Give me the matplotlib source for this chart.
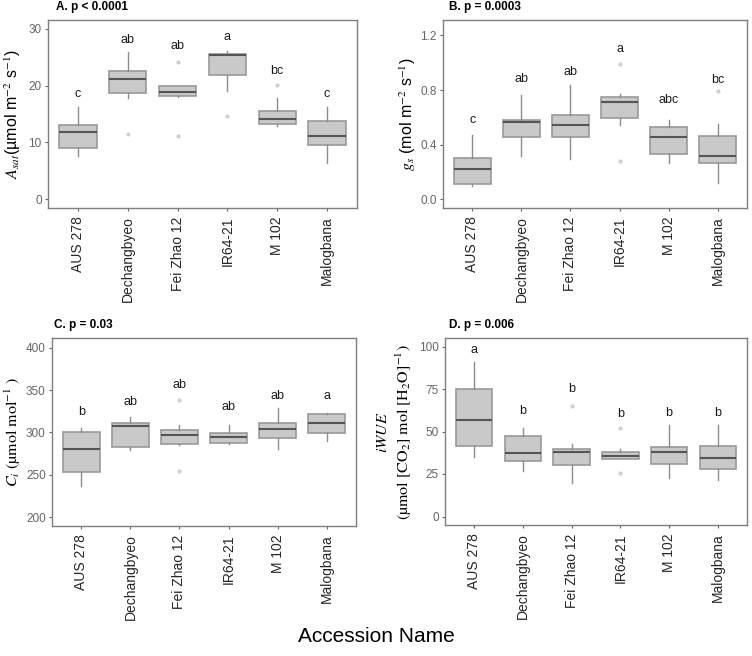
import numpy as np
import matplotlib
matplotlib.use("Agg")
import matplotlib.pyplot as plt

plt.rcParams['font.family'] = ['Liberation Sans', 'DejaVu Sans']
plt.rcParams['mathtext.fontset'] = 'stix'

accessions = ["AUS 278", "Dechangbyeo", "Fei Zhao 12", "IR64-21", "M 102", "Malogbana"]

# A. Asat
a_whislo = [7.6, 17.8, 18.0, 19.0, 12.9, 6.4]
a_q1 = [9.1, 18.6, 18.2, 21.8, 13.3, 9.6]
a_med = [11.9, 21.1, 18.8, 25.3, 14.2, 11.1]
a_q3 = [13.1, 22.5, 19.9, 25.6, 15.6, 13.7]
a_whishi = [16.3, 25.8, 19.9, 26.0, 17.8, 16.3]
a_fliers = [[], [11.5], [24.2, 11.2], [14.7], [20.1], []]
a_letters = ["c", "ab", "ab", "a", "bc", "c"]
a_letter_y = [18.5, 28.0, 27.0, 28.5, 22.6, 18.5]

# B. gs
b_whislo = [0.102, 0.316, 0.297, 0.545, 0.268, 0.122]
b_q1 = [0.115, 0.457, 0.46, 0.599, 0.331, 0.27]
b_med = [0.226, 0.564, 0.543, 0.71, 0.457, 0.319]
b_q3 = [0.302, 0.584, 0.615, 0.75, 0.528, 0.465]
b_whishi = [0.474, 0.764, 0.834, 0.774, 0.579, 0.552]
b_fliers = [[], [], [], [0.993, 0.28], [], [0.79]]
b_letters = ["c", "ab", "ab", "a", "abc", "bc"]
b_letter_y = [0.584, 0.88, 0.934, 1.10, 0.725, 0.876]

# C. Ci
c_whislo = [237, 279, 285.7, 286.1, 281, 289.3]
c_q1 = [252.8, 283.3, 286.5, 287.7, 294, 299.2]
c_med = [280.6, 307.9, 296.8, 294.8, 304, 311.1]
c_q3 = [300, 311.1, 302.8, 299.2, 311.5, 321.4]
c_whishi = [304.8, 318.3, 309.1, 308.7, 328.6, 322.6]
c_fliers = [[], [], [338, 254.4], [], [], []]
c_letters = ["b", "ab", "ab", "ab", "ab", "a"]
c_letter_y = [323.8, 336.5, 355.6, 329.8, 342.5, 342.5]

# D. iWUE
d_whislo = [34.8, 26.6, 19.7, 33.8, 22.7, 21.3]
d_q1 = [41.6, 32.5, 30.3, 33.8, 30.9, 27.9]
d_med = [56.8, 37.3, 37.9, 35.4, 37.7, 34.4]
d_q3 = [75.0, 47.6, 40.0, 37.9, 40.6, 41.2]
d_whishi = [91.0, 52.0, 42.8, 39.6, 53.9, 53.9]
d_fliers = [[], [], [65.1], [52.3, 25.6], [], []]
d_letters = ["a", "b", "b", "b", "b", "b"]
d_letter_y = [98, 62, 75, 60.4, 60.7, 60.7]

W, H = 752, 656
fig = plt.figure(figsize=(W / 100, H / 100), dpi=100)

def px_axes(left, top, right, bottom):
    return fig.add_axes([left / W, 1 - bottom / H, (right - left) / W, (bottom - top) / H])

def draw_panel(ax, whislo, q1, med, q3, whishi, fliers, letters, letter_y, ylim, yticks, yticklabels):
    stats = []
    for i in range(len(accessions)):
        stats.append(dict(whislo=whislo[i], q1=q1[i], med=med[i], q3=q3[i],
                          whishi=whishi[i], fliers=fliers[i]))
    pos = np.arange(1, len(accessions) + 1)
    ax.bxp(stats, positions=pos, widths=0.75, patch_artist=True, showcaps=False,
           boxprops=dict(facecolor='#c9c9c9', edgecolor='#9a9a9a', linewidth=1.2),
           medianprops=dict(color='#555555', linewidth=1.5),
           whiskerprops=dict(color='#8c8c8c', linewidth=1),
           flierprops=dict(marker='o', markersize=3, markerfacecolor='#cfcfcf',
                           markeredgecolor='none'))
    for x, lab, y in zip(pos, letters, letter_y):
        ax.text(x, y, lab, ha='center', va='center', fontsize=9, color='#1a1a1a')
    ax.set_xlim(0.4, 6.6)
    ax.set_ylim(*ylim)
    ax.set_yticks(yticks)
    ax.set_yticklabels(yticklabels)
    ax.set_xticks(pos)
    ax.set_xticklabels(accessions, rotation=90, fontsize=10, color='#262626')
    ax.tick_params(axis='y', labelsize=8.5, colors='#666666', length=2.5, width=0.8, pad=2)
    ax.tick_params(axis='x', length=2.5, width=0.8, color='#666666')
    for s in ax.spines.values():
        s.set_color('#7f7f7f')
        s.set_linewidth(1)

axA = px_axes(48, 20, 357, 208)
draw_panel(axA, a_whislo, a_q1, a_med, a_q3, a_whishi, a_fliers, a_letters, a_letter_y,
           (-1.5, 31.5), [0, 10, 20, 30], ["0", "10", "20", "30"])
axB = px_axes(443, 20, 747, 208)
draw_panel(axB, b_whislo, b_q1, b_med, b_q3, b_whishi, b_fliers, b_letters, b_letter_y,
           (-0.0625, 1.3125), [0, 0.4, 0.8, 1.2], ["0.0", "0.4", "0.8", "1.2"])
axC = px_axes(52, 338, 356, 526)
draw_panel(axC, c_whislo, c_q1, c_med, c_q3, c_whishi, c_fliers, c_letters, c_letter_y,
           (189.5, 411.5), [200, 250, 300, 350, 400], ["200", "250", "300", "350", "400"])
axD = px_axes(445, 338, 747, 525)
draw_panel(axD, d_whislo, d_q1, d_med, d_q3, d_whishi, d_fliers, d_letters, d_letter_y,
           (-5, 105), [0, 25, 50, 75, 100], ["0", "25", "50", "75", "100"])

# panel titles
fig.text(56 / W, 1 - 7 / H, "A. p < 0.0001", fontsize=8.5, fontweight='bold', va='center')
fig.text(449 / W, 1 - 7 / H, "B. p = 0.0003", fontsize=8.5, fontweight='bold', va='center')
fig.text(54 / W, 1 - 325 / H, "C. p = 0.03", fontsize=8.5, fontweight='bold', va='center')
fig.text(449 / W, 1 - 325 / H, "D. p = 0.006", fontsize=8.5, fontweight='bold', va='center')

# y labels
fig.text(13 / W, 1 - 114 / H, r"$A_{sat}$(µmol m$^{-2}$ s$^{-1}$)", rotation=90,
         ha='center', va='center', fontsize=11.5)
fig.text(408 / W, 1 - 114 / H, r"$g_s$ (mol m$^{-2}$ s$^{-1}$)", rotation=90,
         ha='center', va='center', fontsize=11.5)
fig.text(13 / W, 1 - 432 / H, r"$C_i$ (µmol mol$^{-1}$ )", rotation=90,
         ha='center', va='center', fontsize=11.5, family='STIXGeneral')
fig.text(383 / W, 1 - 432 / H, r"$iWUE$", rotation=90,
         ha='center', va='center', fontsize=11.5, family='STIXGeneral')
fig.text(404 / W, 1 - 432 / H, r"(µmol [CO$_2$] mol [H$_2$O]$^{-1}$)", rotation=90,
         ha='center', va='center', fontsize=11.5, family='STIXGeneral')

fig.text(376 / W, 1 - 636 / H, "Accession Name", ha='center', va='center', fontsize=15)

fig.savefig("out.png", dpi=100)
